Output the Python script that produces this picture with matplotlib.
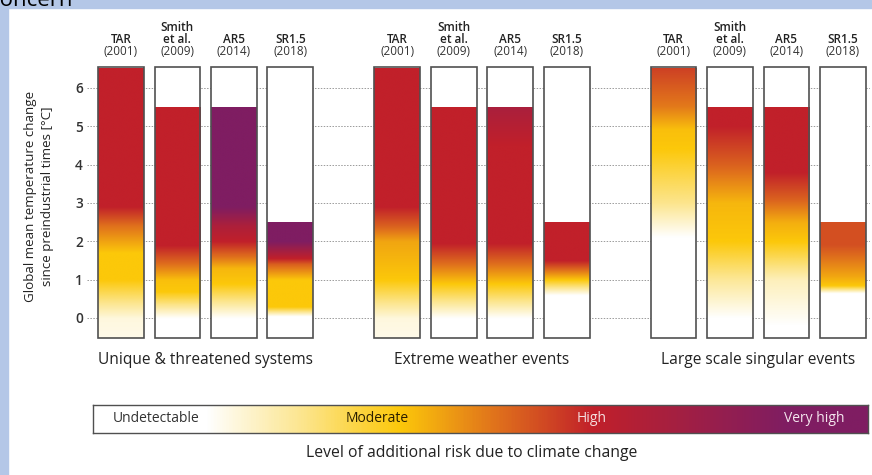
import numpy as np
import matplotlib
matplotlib.use("Agg")
import matplotlib.pyplot as plt
import matplotlib.patches as patches
from matplotlib.colors import LinearSegmentedColormap

plt.rcParams['font.family'] = ['Open Sans', 'DejaVu Sans']

# --- data -------------------------------------------------------------
groups = ["Unique & threatened systems", "Extreme weather events",
          "Large scale singular events"]
assess_names = ["TAR", "Smith\net al.", "AR5", "SR1.5"]
assess_years = ["(2001)", "(2009)", "(2014)", "(2018)"]

# top of coloured part of each bar [°C]
bar_tops = [[6.5, 5.5, 5.5, 2.5],
            [6.5, 5.5, 5.5, 2.5],
            [6.5, 5.5, 5.5, 2.5]]

# risk level breakpoints (0 undetectable, 1 moderate, 2 high, 3 very high)
uts_temps = [[-0.5, 0.0, 1.0, 1.7, 2.4, 2.9],
             [0.0, 0.7, 1.0, 1.4, 1.9],
             [0.0, 0.9, 1.3, 1.6, 2.0, 2.4, 2.9],
             [0.05, 0.3, 1.0, 1.4, 1.55, 2.0]]
uts_levels = [[0.1, 0.15, 1.0, 1.0, 1.5, 2.0],
              [0.0, 1.0, 1.05, 1.5, 2.0],
              [0.0, 1.0, 1.1, 1.5, 2.0, 2.3, 3.0],
              [0.0, 1.0, 1.0, 1.6, 2.0, 3.0]]

ewe_temps = [[-0.5, 0.0, 1.0, 2.0, 2.4, 2.9],
             [0.0, 0.9, 1.4, 1.95],
             [0.0, 0.9, 1.4, 1.95, 4.5, 5.5],
             [0.6, 1.0, 1.25, 1.5]]
ewe_levels = [[0.1, 0.15, 1.0, 1.2, 1.6, 2.0],
              [0.0, 1.0, 1.5, 2.0],
              [0.0, 1.0, 1.5, 2.0, 2.0, 2.35],
              [0.0, 1.0, 1.5, 2.0]]

lss_temps = [[2.1, 3.0, 4.4, 4.9, 5.5, 6.5],
             [0.0, 1.0, 2.0, 3.0, 4.0, 5.0],
             [-0.2, 1.0, 2.0, 2.5, 3.1, 3.8],
             [0.65, 0.85, 1.1, 1.9]]
lss_levels = [[0.0, 0.5, 1.0, 1.05, 1.45, 1.8],
              [0.0, 0.45, 1.0, 1.1, 1.6, 2.0],
              [0.0, 0.3, 1.0, 1.15, 1.6, 2.0],
              [0.0, 1.0, 1.2, 1.7]]

all_temps = [uts_temps, ewe_temps, lss_temps]
all_levels = [uts_levels, ewe_levels, lss_levels]

yticks = [0, 1, 2, 3, 4, 5, 6]
legend_labels = ["Undetectable", "Moderate", "High", "Very high"]

# --- colours ----------------------------------------------------------
risk_cmap = LinearSegmentedColormap.from_list("risk", [
    (0.0, "#FFFFFF"), (0.5 / 3, "#FCE58C"), (1.0 / 3, "#FCC80A"),
    (1.5 / 3, "#E0711C"), (2.0 / 3, "#C1202A"), (2.5 / 3, "#A01F45"),
    (1.0, "#7F1D62")])

fig = plt.figure(figsize=(8.72, 4.75), dpi=100)

# slide frame
frame = "#B4C7E7"
fig.patches.append(patches.Rectangle((0, 0), 8 / 872, 1, transform=fig.transFigure,
                                     color=frame, zorder=0))
fig.patches.append(patches.Rectangle((0, 1 - 8 / 475), 1, 8 / 475, transform=fig.transFigure,
                                     color=frame, zorder=0))
fig.text(-0.012, 1 - 6 / 475, "concern", fontsize=16, va='baseline', ha='left')

ax = fig.add_axes([87 / 872, 1 - 339 / 475, 783 / 872, 274 / 475])
ax.set_xlim(-0.6, 13.26)
ax.set_ylim(-0.55, 6.6)
for s in ax.spines.values():
    s.set_visible(False)
ax.set_xticks([])
ax.set_yticks(yticks)
ax.tick_params(axis='y', length=0, pad=3, labelsize=9.8, labelcolor='#333333')
for lab in ax.get_yticklabels():
    lab.set_fontweight('semibold')
ax.yaxis.grid(True, linestyle=(0, (1.5, 1.5)), color='#9a9a9a', lw=0.7)
ax.set_axisbelow(True)

group_step = 4.89
bar_w = 0.81
t_grid = np.linspace(-0.5, 6.5, 800)

for g, gname in enumerate(groups):
    for i in range(4):
        xc = g * group_step + i
        x0, x1 = xc - bar_w / 2, xc + bar_w / 2
        top = bar_tops[g][i]
        ax.add_patch(patches.Rectangle((x0, -0.52), bar_w, 7.07, facecolor='white',
                                       edgecolor='none', zorder=2))
        tt = t_grid[t_grid <= top]
        lev = np.interp(tt, all_temps[g][i], all_levels[g][i])
        ax.imshow(lev[:, None], cmap=risk_cmap, vmin=0, vmax=3, origin='lower',
                  extent=[x0, x1, -0.52, top], aspect='auto', zorder=3,
                  interpolation='bilinear')
        ax.add_patch(patches.Rectangle((x0, -0.52), bar_w, 7.07, fill=False,
                                       edgecolor='#505050', lw=1.2, zorder=4))
        ax.text(xc, 6.79, assess_years[i], ha='center', va='bottom', fontsize=8.5,
                color='#333333', clip_on=False)
        ax.text(xc, 7.10, assess_names[i], ha='center', va='bottom', fontsize=8.5,
                color='#222222', fontweight='semibold', linespacing=0.92, clip_on=False)
    ax.text(g * group_step + 1.5, -0.88, gname, ha='center', va='top', fontsize=11.2,
            color='#222222', clip_on=False)

fig.text(39 / 872, 1 - 196 / 475,
         "Global mean temperature change\nsince preindustrial times [°C]",
         rotation=90, ha='center', va='center', fontsize=9.6, color='#222222',
         linespacing=1.35)

# legend colour bar
cax = fig.add_axes([93 / 872, 1 - 433 / 475, 775 / 872, 28 / 475])
frac = np.linspace(0, 1, 600)
cb_level = np.clip((frac - 0.145) / 0.25, 0, 3)
cax.imshow(cb_level[None, :], cmap=risk_cmap, vmin=0, vmax=3, aspect='auto',
           extent=[0, 1, 0, 1])
cax.set_xlim(0, 1)
cax.set_ylim(0, 1)
cax.set_xticks([])
cax.set_yticks([])
for s in cax.spines.values():
    s.set_color('#505050')
    s.set_linewidth(1.0)
cax.text(0.026, 0.5, legend_labels[0], ha='left', va='center', fontsize=10, color='#333333')
cax.text(0.367, 0.5, legend_labels[1], ha='center', va='center', fontsize=10, color='#2a1e00')
cax.text(0.644, 0.5, legend_labels[2], ha='center', va='center', fontsize=10, color='#f4dede')
cax.text(0.97, 0.5, legend_labels[3], ha='right', va='center', fontsize=10, color='#f4e6ee')

fig.text(472 / 872, 1 - 453 / 475, "Level of additional risk due to climate change",
         ha='center', va='center', fontsize=11.3, color='#222222')

fig.savefig("out.png", dpi=100)
